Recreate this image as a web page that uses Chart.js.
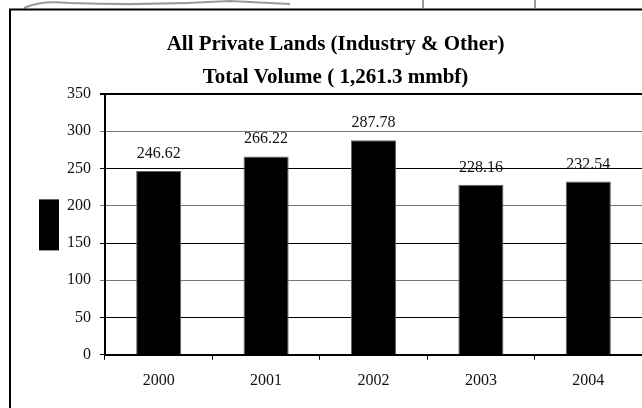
<!DOCTYPE html>
<html>
<head>
<meta charset="utf-8">
<script src="https://cdn.jsdelivr.net/npm/chart.js@4/dist/chart.umd.min.js"></script>
<style>
  html, body { margin: 0; padding: 0; background: #fff; overflow: hidden; }
  #wrap { width: 642px; height: 408px; position: relative; }
</style>
</head>
<body>
<div id="wrap"><canvas id="c" width="642" height="408"></canvas></div>
<script>
const titleLines = ['All Private Lands (Industry & Other)', 'Total Volume ( 1,261.3 mmbf)'];
const categories = ['2000', '2001', '2002', '2003', '2004'];
const volumes = [246.62, 266.22, 287.78, 228.16, 232.54];
const valueLabels = ['246.62', '266.22', '287.78', '228.16', '232.54'];
const yMin = 0, yMax = 350, yStep = 50;

const SERIF = "'Liberation Serif', 'Times New Roman', serif";

const framePlugin = {
  id: 'frame',
  beforeDraw(chart) {
    const ctx = chart.ctx;
    ctx.save();
    ctx.fillStyle = '#fff';
    ctx.fillRect(0, 0, chart.width, chart.height);
    // scanned sketch remnants above the frame
    ctx.strokeStyle = '#9a9a9a';
    ctx.lineWidth = 2;
    ctx.beginPath();
    ctx.moveTo(24, 8); ctx.quadraticCurveTo(40, 0, 70, 3);
    ctx.quadraticCurveTo(150, 6, 230, 1);
    ctx.moveTo(230, 1); ctx.lineTo(290, 4);
    ctx.moveTo(423, 0); ctx.lineTo(423, 8);
    ctx.moveTo(535, 0); ctx.lineTo(535, 8);
    ctx.stroke();
    // frame
    ctx.strokeStyle = '#000';
    ctx.lineWidth = 2;
    ctx.beginPath();
    ctx.moveTo(10, chart.height);
    ctx.lineTo(10, 9.5);
    ctx.lineTo(chart.width, 9.5);
    ctx.stroke();
    ctx.restore();
  }
};

// legend key (partially visible legend swatch of the single series)
const legendKeyPlugin = {
  id: 'legendKey',
  afterDraw(chart) {
    const ctx = chart.ctx;
    const a = chart.chartArea;
    const cy = (a.top + a.bottom) / 2;
    ctx.save();
    ctx.fillStyle = chart.data.datasets[0].backgroundColor;
    ctx.fillRect(39, cy - 25, 20, 51);
    ctx.restore();
  }
};

const valueLabelPlugin = {
  id: 'valueLabels',
  afterDatasetsDraw(chart) {
    const ctx = chart.ctx;
    const meta = chart.getDatasetMeta(0);
    ctx.save();
    ctx.font = '16px ' + SERIF;
    ctx.fillStyle = '#111';
    ctx.textAlign = 'center';
    ctx.textBaseline = 'alphabetic';
    meta.data.forEach((bar, i) => {
      ctx.fillText(valueLabels[i], bar.x, bar.y - 13);
    });
    ctx.restore();
  }
};

new Chart(document.getElementById('c'), {
  type: 'bar',
  data: {
    labels: categories,
    datasets: [{
      label: 'Volume',
      data: volumes,
      backgroundColor: '#000',
      borderColor: '#666',
      borderWidth: 1,
      barPercentage: 0.42,
      categoryPercentage: 1.0
    }]
  },
  options: {
    responsive: false,
    animation: false,
    layout: { padding: { top: 10, left: 29, right: 0, bottom: 7 } },
    plugins: {
      title: {
        display: true,
        text: titleLines,
        color: '#000',
        font: { family: SERIF, size: 21, weight: 'bold', lineHeight: 1.571 },
        padding: { top: 18, bottom: 0 }
      },
      legend: { display: false },
      tooltip: { enabled: false }
    },
    scales: {
      x: {
        offset: true,
        grid: {
          offset: true,
          drawOnChartArea: false,
          drawTicks: true,
          tickLength: 5,
          color: '#000'
        },
        border: { display: true, color: '#000', width: 2 },
        ticks: { color: '#111', font: { family: SERIF, size: 16 }, padding: 11, maxRotation: 0 }
      },
      y: {
        min: yMin,
        max: yMax,
        afterFit(scale) { scale.width = 76; },
        ticks: { stepSize: yStep, color: '#111', font: { family: SERIF, size: 16 }, padding: 9 },
        grid: {
          color(ctx) {
            const v = ctx.tick ? ctx.tick.value : 0;
            return (v % 100 === 0 && v !== 0) ? '#777' : '#000';
          },
          lineWidth(ctx) {
            const v = ctx.tick ? ctx.tick.value : 0;
            return v === yMax ? 2 : 1;
          },
          tickLength: 5,
          drawTicks: true
        },
        border: { display: true, color: '#000', width: 2 }
      }
    }
  },
  plugins: [framePlugin, legendKeyPlugin, valueLabelPlugin]
});
</script>
</body>
</html>
